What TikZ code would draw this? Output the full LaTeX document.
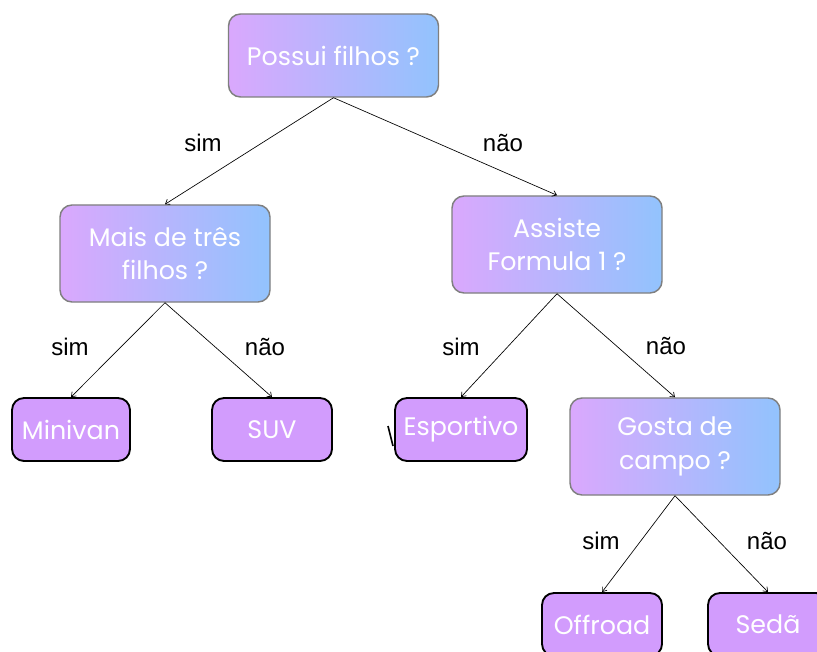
\documentclass[tikz,border=0pt]{standalone}
\usepackage{fontspec}
\setmainfont{Liberation Sans}
\newfontfamily\boxfont{Poppins}
\usetikzlibrary{arrows.meta, positioning}
\definecolor{gradleft}{HTML}{DAA8FD}
\definecolor{gradright}{HTML}{92C3FD}
\definecolor{leaffill}{HTML}{D29CFD}
\definecolor{boxline}{HTML}{7F7F7F}
\begin{document}
\begin{tikzpicture}[
    x=0.75pt, y=-0.75pt,
    question/.style={draw=boxline, line width=1.1pt, rounded corners=9pt, left color=gradleft, right color=gradright, minimum width=157.5pt, minimum height=72.75pt, align=center, text=white, font=\boxfont\fontsize{19}{25}\selectfont},
    leaf/.style={draw=black, line width=1.4pt, rounded corners=9pt, fill=leaffill, minimum height=47.25pt, align=center, text=white, font=\boxfont\fontsize{19}{25}\selectfont},
    answer/.style={font=\fontsize{18}{22}\selectfont, text=black},
    arrow/.style={-{Straight Barb[length=3pt,width=4.5pt]}, line width=0.5pt, black}
  ]
    \clip (0,0) rectangle (817,652);
    \fill[white] (0,0) rectangle (817,652);

    \node[question, minimum height=62.25pt] (root) at (333.5,55.5) {Possui filhos ?};
    \node[question] (mais) at (165,253.5) {Mais de três\\filhos ?};
    \node[question] (assiste) at (557,244.5) {Assiste\\Formula 1 ?};
    \node[question] (gosta) at (675,446.5) {Gosta de\\campo ?};

    \draw[line width=1.2pt] (388,426) -- (393,446);

    \node[leaf, minimum width=88.5pt] (minivan) at (71,429.5) {Minivan};
    \node[leaf, minimum width=90pt] (suv) at (272,429.5) {SUV};
    \node[leaf, minimum width=99pt] (esportivo) at (461,429.5) {Esportivo};
    \node[leaf, minimum width=90pt] (offroad) at (602,624.5) {Offroad};
    \node[leaf, minimum width=90pt] (seda) at (768,624.5) {Sedã};

    \draw[arrow] (root.south) -- (mais.north);
    \draw[arrow] (root.south) -- (assiste.north);
    \draw[arrow] (mais.south) -- (minivan.north);
    \draw[arrow] (mais.south) -- (suv.north);
    \draw[arrow] (assiste.south) -- (esportivo.north);
    \draw[arrow] (assiste.south) -- (gosta.north);
    \draw[arrow] (gosta.south) -- (offroad.north);
    \draw[arrow] (gosta.south) -- (seda.north);

    \node[answer] (s1) at (203,143) {sim};
    \node[answer] (n1) at (503,143) {não};
    \node[answer] (s2) at (70,347) {sim};
    \node[answer] (n2) at (265,347) {não};
    \node[answer] (s3) at (461,347) {sim};
    \node[answer] (n3) at (666,346) {não};
    \node[answer] (s4) at (601,541) {sim};
    \node[answer] (n4) at (767,541) {não};
  \end{tikzpicture}
\end{document}
